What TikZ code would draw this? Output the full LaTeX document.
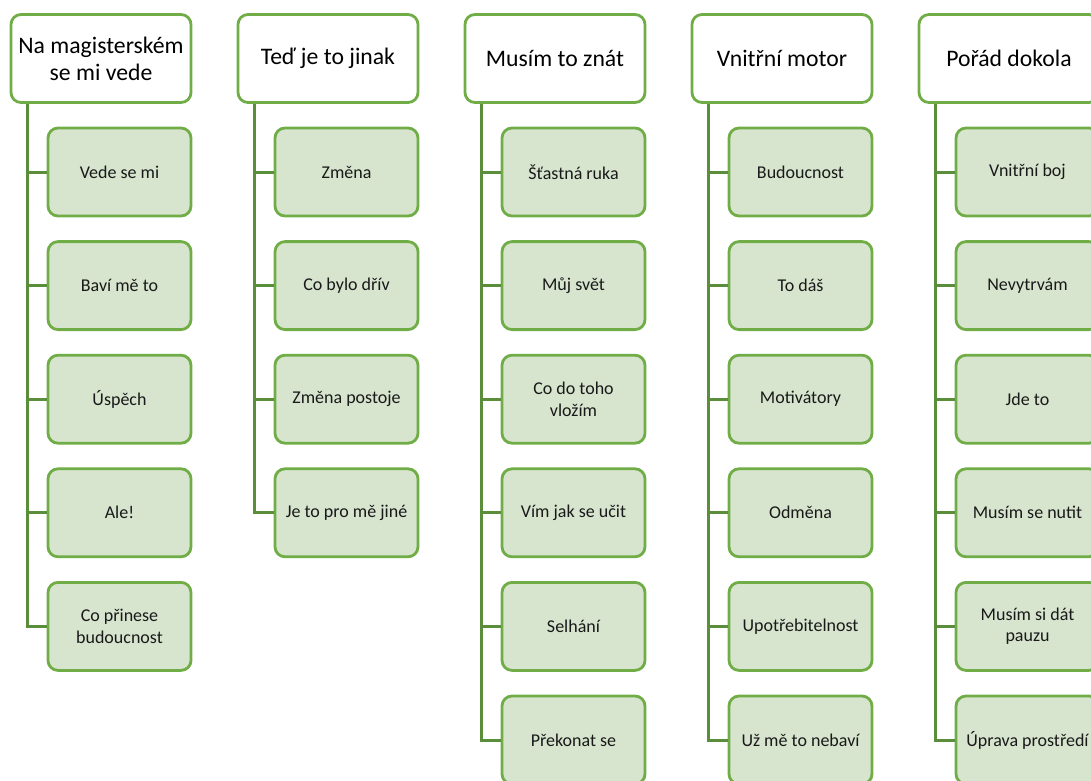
\documentclass[tikz,border=0pt]{standalone}
\usepackage{fontspec}
\setmainfont{Carlito}
\usetikzlibrary{positioning, calc}
\definecolor{boxgreen}{RGB}{112,173,71}
\definecolor{boxfill}{RGB}{215,228,206}
\definecolor{linegreen}{RGB}{91,142,58}

\begin{document}
\begin{tikzpicture}[x=1pt, y=-1pt,
    head/.style={draw=boxgreen, line width=2.8pt, rounded corners=10pt, fill=white,
        minimum width=180pt, minimum height=88pt, align=center, inner sep=2pt,
        font=\fontsize{23.7}{27}\selectfont},
    item/.style={draw=boxgreen, line width=2.8pt, rounded corners=10pt, fill=boxfill,
        minimum width=143pt, minimum height=88pt, align=center, inner sep=2pt,
        text=black!90, font=\fontsize{18}{21.5}\selectfont},
    conn/.style={draw=linegreen, line width=3pt}]
    \useasboundingbox (0,0) rectangle (1091,780);
    \clip (0,0) rectangle (1091,780);

    % Column 1
    \node[head] (h1) at (101,58.5) {Na magisterském\\se mi vede};
    \foreach \txt [count=\j] in {Vede se mi, Baví mě to, Úspěch, Ale!, {Co přinese\\budoucnost}} {
        \node[item] (c1-\j) at (119.5,{172+113.6*(\j-1)}) {\txt};
        \draw[conn] (h1.south west) ++(18,0) |- (c1-\j.west);
    }

    % Column 2
    \node[head] (h2) at (328,58.5) {Teď je to jinak};
    \foreach \txt [count=\j] in {Změna, Co bylo dřív, Změna postoje, Je to pro mě jiné} {
        \node[item] (c2-\j) at (346.5,{172+113.6*(\j-1)}) {\txt};
        \draw[conn] (h2.south west) ++(18,0) |- (c2-\j.west);
    }

    % Column 3
    \node[head] (h3) at (555,58.5) {Musím to znát};
    \foreach \txt [count=\j] in {Šťastná ruka, Můj svět, {Co do toho\\vložím}, Vím jak se učit, Selhání, Překonat se} {
        \node[item] (c3-\j) at (573.5,{172+113.6*(\j-1)}) {\txt};
        \draw[conn] (h3.south west) ++(18,0) |- (c3-\j.west);
    }

    % Column 4
    \node[head] (h4) at (782,58.5) {Vnitřní motor};
    \foreach \txt [count=\j] in {Budoucnost, To dáš, Motivátory, Odměna, Upotřebitelnost, Už mě to nebaví} {
        \node[item] (c4-\j) at (800.5,{172+113.6*(\j-1)}) {\txt};
        \draw[conn] (h4.south west) ++(18,0) |- (c4-\j.west);
    }

    % Column 5
    \node[head] (h5) at (1009,58.5) {Pořád dokola};
    \foreach \txt [count=\j] in {Vnitřní boj, Nevytrvám, Jde to, Musím se nutit, {Musím si dát\\pauzu}, Úprava prostředí} {
        \node[item] (c5-\j) at (1027.5,{172+113.6*(\j-1)}) {\txt};
        \draw[conn] (h5.south west) ++(18,0) |- (c5-\j.west);
    }
\end{tikzpicture}
\end{document}
